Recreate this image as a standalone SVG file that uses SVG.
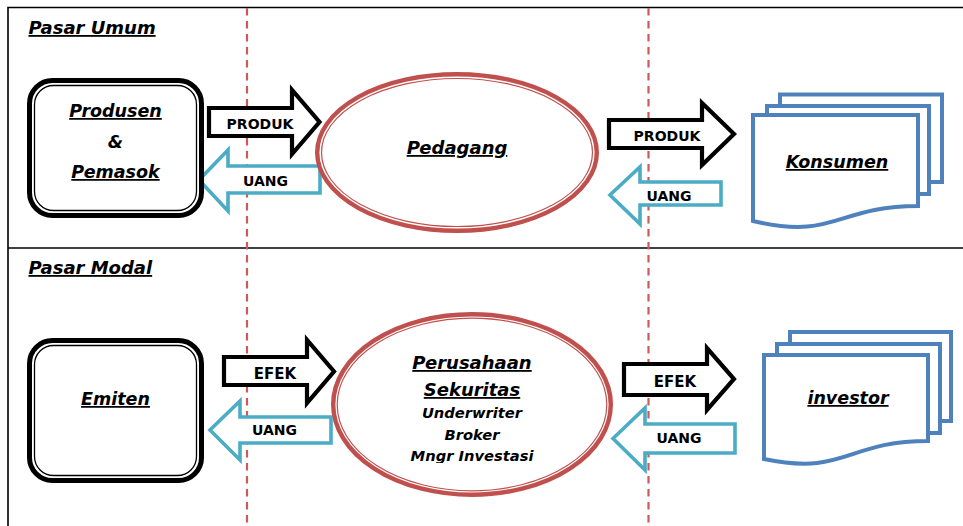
<svg xmlns="http://www.w3.org/2000/svg" width="963" height="526" viewBox="0 0 963 526">
  <style>
    .frame { stroke: #000; stroke-width: 1.6; fill: none; }
    .guide { stroke: #cc5a5a; stroke-width: 2.2; stroke-dasharray: 7.5 5.5; fill: none; }
    .box-outer { fill: #fff; stroke: #000; stroke-width: 5; }
    .box-inner { fill: none; stroke: #000; stroke-width: 1.3; }
    .oval-outer { fill: #fff; stroke: #c0504d; stroke-width: 4.4; }
    .oval-inner { fill: none; stroke: #c0504d; stroke-width: 1.2; }
    .doc { fill: #fff; stroke: #4f81bd; stroke-width: 4; stroke-linejoin: miter; }
    .arr-fwd { fill: #fff; stroke: #000; stroke-width: 4.2; stroke-linejoin: miter; }
    .arr-back { fill: #fff; stroke: #4bacc6; stroke-width: 3.6; stroke-linejoin: miter; }
    .title { font-family: "DejaVu Sans", Verdana, sans-serif; font-weight: bold; font-style: italic; text-decoration: underline; font-size: 18px; fill: #000; }
    .name { font-family: "DejaVu Sans", Verdana, sans-serif; font-weight: bold; font-style: italic; text-decoration: underline; font-size: 17.5px; fill: #000; text-anchor: middle; }
    .sub { font-family: "DejaVu Sans", Verdana, sans-serif; font-weight: bold; font-style: italic; font-size: 14.7px; fill: #000; text-anchor: middle; }
    .lbl { font-family: "DejaVu Sans", Verdana, sans-serif; font-weight: bold; font-size: 14px; fill: #000; text-anchor: middle; }
  </style>
  <defs>
    <clipPath id="oval-text-clip">
      <rect x="330" y="300" width="290" height="163"/>
    </clipPath>
  </defs>

  <rect width="963" height="526" fill="#fff"/>

  <!-- frame and section divider -->
  <g id="frame">
    <path class="frame" d="M8,526 L8,7.5 L963,7.5"/>
    <path class="frame" d="M8,248 L963,248"/>
    <path class="guide" d="M247,8 L247,526"/>
    <path class="guide" d="M648.5,8 L648.5,526"/>
  </g>

  <!-- section titles -->
  <text class="title" x="28.5" y="34">Pasar Umum</text>
  <text class="title" x="28.5" y="274">Pasar Modal</text>

  <!-- flow arrows -->
  <g id="connectors">
    <g id="produk-1">
      <path class="arr-fwd" d="M209,108 L292,108 L292,90 L319.5,122 L292,154 L292,136 L209,136 Z"/>
      <text class="lbl" x="260" y="129">PRODUK</text>
    </g>
    <g id="uang-1">
      <path class="arr-back" d="M320,166 L228,166 L228,150 L199,180 L228,211 L228,193 L320,193 Z"/>
      <text class="lbl" x="265.5" y="186">UANG</text>
    </g>
    <g id="produk-2">
      <path class="arr-fwd" d="M609,120 L702,120 L702,103 L734,134 L702,165 L702,148 L609,148 Z"/>
      <text class="lbl" x="667" y="141">PRODUK</text>
    </g>
    <g id="uang-2">
      <path class="arr-back" d="M721,182 L640,182 L640,167 L610,195 L640,224 L640,205 L721,205 Z"/>
      <text class="lbl" x="669" y="201">UANG</text>
    </g>
    <g id="efek-1">
      <path class="arr-fwd" d="M224,357 L307,357 L307,340 L334,371.5 L307,403 L307,385 L224,385 Z"/>
      <text class="lbl" x="275" y="379" style="font-size:15px">EFEK</text>
    </g>
    <g id="uang-3">
      <path class="arr-back" d="M331,417 L240,417 L240,401 L210,430 L240,460 L240,443 L331,443 Z"/>
      <text class="lbl" x="274.5" y="435">UANG</text>
    </g>
    <g id="efek-2">
      <path class="arr-fwd" d="M624,364 L707,364 L707,348 L734,379 L707,410 L707,395 L624,395 Z"/>
      <text class="lbl" x="675" y="387" style="font-size:15px">EFEK</text>
    </g>
    <g id="uang-4">
      <path class="arr-back" d="M735,424 L645,424 L645,408 L613,438.5 L645,470 L645,453 L735,453 Z"/>
      <text class="lbl" x="679" y="443">UANG</text>
    </g>
  </g>

  <!-- Pasar Umum nodes -->
  <g id="produsen">
    <rect class="box-outer" x="29.5" y="80.5" width="172" height="135" rx="23"/>
    <rect class="box-inner" x="34.5" y="85.5" width="162" height="125" rx="19"/>
    <text class="name" x="115.5" y="117">Produsen</text>
    <text class="sub" x="115.5" y="148" style="font-size:17.5px">&amp;</text>
    <text class="name" x="115.5" y="178">Pemasok</text>
  </g>

  <g id="pedagang">
    <ellipse class="oval-outer" cx="457" cy="152.5" rx="139.8" ry="78.3"/>
    <ellipse class="oval-inner" cx="457" cy="152.5" rx="135.5" ry="74"/>
    <text class="name" x="457" y="154" style="font-size:18px">Pedagang</text>
  </g>

  <g id="konsumen">
    <path class="doc" d="M780,106 L780,94.5 L942,94.5 L942,182 L929,182"/>
    <path class="doc" d="M767,115 L767,106 L929,106 L929,194 L918,194"/>
    <path class="doc" d="M753,115 L918,115 L918,206 C835.5,206 835.5,240.6 753,221 Z"/>
    <text class="name" x="837" y="168">Konsumen</text>
  </g>

  <!-- Pasar Modal nodes -->
  <g id="emiten">
    <rect class="box-outer" x="29.5" y="340.5" width="172" height="140" rx="23"/>
    <rect class="box-inner" x="34.5" y="345.5" width="162" height="130" rx="19"/>
    <text class="name" x="115.5" y="405">Emiten</text>
  </g>

  <g id="perusahaan-sekuritas">
    <ellipse class="oval-outer" cx="472" cy="404.5" rx="138.8" ry="90.3"/>
    <ellipse class="oval-inner" cx="472" cy="404.5" rx="134.8" ry="86.3"/>
    <text class="name" x="472" y="369" style="font-size:18px">Perusahaan</text>
    <text class="name" x="472" y="396" style="font-size:18px">Sekuritas</text>
    <text class="sub" x="472" y="418">Underwriter</text>
    <text class="sub" x="472" y="440">Broker</text>
    <text class="sub" x="472" y="461" clip-path="url(#oval-text-clip)">Mngr Investasi</text>
  </g>

  <g id="investor">
    <path class="doc" d="M790,344 L790,332 L951,332 L951,421 L940,421"/>
    <path class="doc" d="M777,355 L777,344 L940,344 L940,433 L928,433"/>
    <path class="doc" d="M764,355 L928,355 L928,441 C846,441 846,476 764,459 Z"/>
    <text class="name" x="848" y="404">investor</text>
  </g>
</svg>
